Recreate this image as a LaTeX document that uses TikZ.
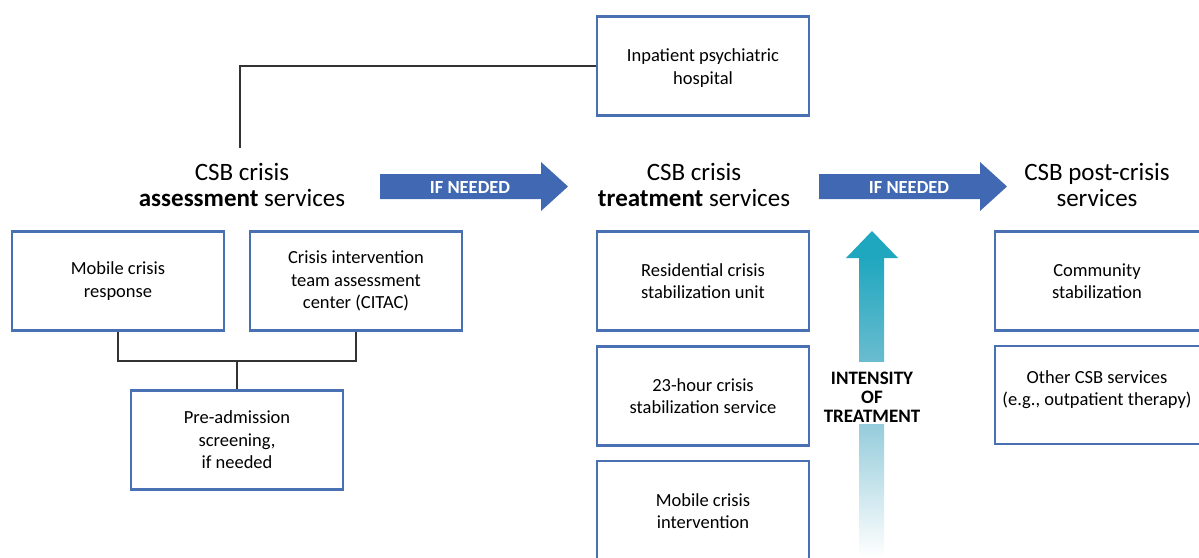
\documentclass[tikz,border=0pt]{standalone}
\usepackage{fontspec}
\setmainfont{Carlito}
\definecolor{boxblue}{HTML}{4A70B4}
\definecolor{arrowblue}{HTML}{4169B3}
\definecolor{tealA}{HTML}{1FA7BF}
\definecolor{tealB}{HTML}{6ABCCF}
\definecolor{tealC}{HTML}{95CCDB}
\definecolor{linegray}{HTML}{333333}
\tikzset{
  svcbox/.style={draw=boxblue, line width=2.6pt, fill=white, minimum width=212pt,
    minimum height=99pt, align=center, inner sep=2pt,
    font=\fontsize{18.5}{22.5}\selectfont},
  boxtext/.style={align=center, inner sep=0pt, font=\fontsize{18.5}{22.5}\selectfont},
  header/.style={align=center, font=\fontsize{25}{26}\selectfont, inner sep=0pt},
  arrowlabel/.style={text=white, font=\bfseries\fontsize{18.5}{20}\selectfont, inner sep=0pt},
  intlabel/.style={align=center, font=\bfseries\fontsize{19}{19}\selectfont, inner sep=0pt},
  conn/.style={draw=linegray, line width=1.1pt}
}
\begin{document}
\begin{tikzpicture}[x=1pt, y=-1pt]
\clip (0,0) rectangle (1199,557);
\fill[white] (0,0) rectangle (1199,557);

% headers
\node[header] (hA) at (242,185) {CSB crisis\\\textbf{assessment} services};
\node[header] (hT) at (694,185) {CSB crisis\\\textbf{treatment} services};
\node[header] (hP) at (1097,185) {CSB post-crisis\\services};

% blue arrows
\fill[arrowblue] (380,174) -- (541,174) -- (541,162) -- (568,186.5) -- (541,211) -- (541,199) -- (380,199) -- cycle;
\node[arrowlabel] (a1) at (470,187) {IF NEEDED};
\fill[arrowblue] (819,174) -- (980,174) -- (980,162) -- (1007,186.5) -- (980,211) -- (980,199) -- (819,199) -- cycle;
\node[arrowlabel] (a2) at (909,187) {IF NEEDED};

% teal intensity arrow
\fill[tealA] (846,258) -- (872,231) -- (898,258) -- cycle;
\shade[top color=tealA, bottom color=tealB] (859,257.5) rectangle (884,361);
\shade[top color=tealC, bottom color=white] (859,424) rectangle (884,557);
\node[intlabel] (int) at (872,397) {INTENSITY\\OF\\TREATMENT};

% boxes
\node[svcbox] (inp) at (703,66) {};
\node[boxtext] (inpT) at (703,68) {Inpatient psychiatric\\hospital};
\node[svcbox] (mcr) at (118,281) {Mobile crisis\\response};
\node[svcbox] (citac) at (356,281) {Crisis intervention\\team assessment\\center (CITAC)};
\node[svcbox] (pre) at (237,440) {Pre-admission\\screening,\\if needed};
\node[svcbox] (res) at (703,281) {Residential crisis\\stabilization unit};
\node[svcbox] (h23) at (703,396) {23-hour crisis\\stabilization service};
\node[svcbox, minimum height=100pt] (mci) at (703,511) {Mobile crisis\\intervention};
\node[svcbox, minimum width=208pt] (com) at (1099,281) {};
\node[boxtext] (comT) at (1097,281) {Community\\stabilization};
\node[svcbox, minimum width=208pt, minimum height=98pt] (oth) at (1099,395) {};
\node[boxtext] (othT) at (1097,389.5) {Other CSB services\\(e.g., outpatient therapy)};

% connectors
\coordinate (asTop) at (240,148);
\draw[conn] (asTop) |- (inp.west);
\coordinate (j) at (237,361);
\draw[conn] (mcr.south) |- (j) -| (citac.south);
\draw[conn] (j) -- (pre.north);
\end{tikzpicture}
\end{document}
